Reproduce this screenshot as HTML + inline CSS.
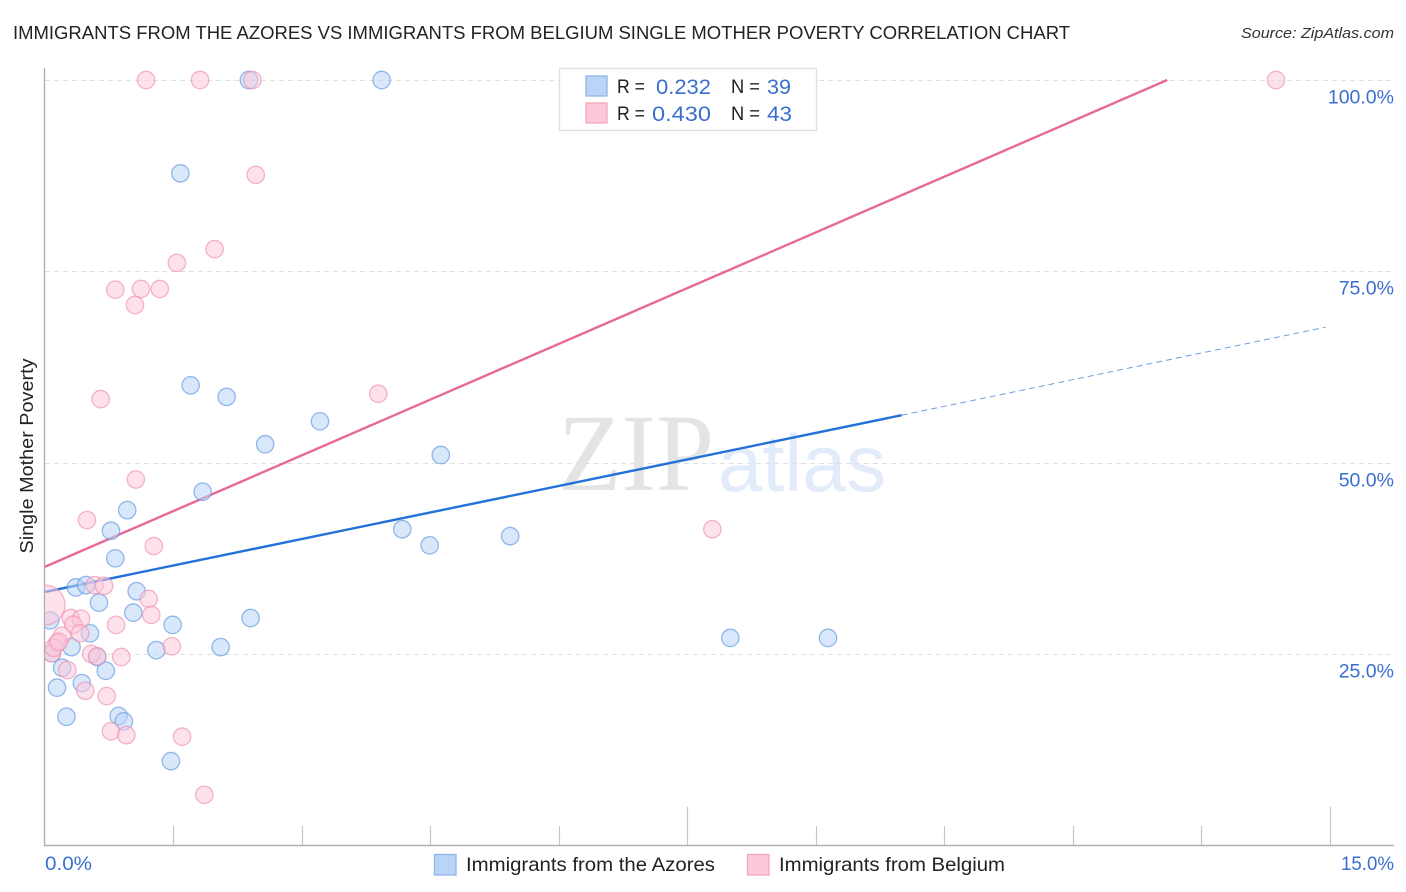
<!DOCTYPE html>
<html lang="en">
<head>
<meta charset="utf-8">
<title>Immigrants from the Azores vs Immigrants from Belgium Single Mother Poverty Correlation Chart</title>
<style>
html,body{margin:0;padding:0;background:#fff;}
body{width:1406px;height:892px;overflow:hidden;font-family:"Liberation Sans",sans-serif;}
svg{display:block;}
text{font-family:"Liberation Sans",sans-serif;}
</style>
</head>
<body>
<svg id="chart" xmlns="http://www.w3.org/2000/svg" width="1406" height="892" viewBox="0 0 1406 892">
  <defs>
    <clipPath id="plot-clip"><rect x="45" y="60" width="1349" height="785"/></clipPath>
  </defs>
  <text x="558" y="490" font-size="110" style="font-family:'Liberation Serif',serif" fill="#e4e4e4" textLength="156" lengthAdjust="spacingAndGlyphs">ZIP</text>
  <text x="718" y="491" font-size="81" style="font-family:'Liberation Sans',sans-serif" fill="#e2ebf9" textLength="168" lengthAdjust="spacingAndGlyphs">atlas</text>
  <g id="grid"></g>
  <g id="axes"></g>
  <g id="lines"></g>
  <g id="points" clip-path="url(#plot-clip)"></g>
  <g id="ylabels"></g>

  <text x="13" y="39" font-size="18.5" fill="#222" textLength="1057" lengthAdjust="spacingAndGlyphs">IMMIGRANTS FROM THE AZORES VS IMMIGRANTS FROM BELGIUM SINGLE MOTHER POVERTY CORRELATION CHART</text>
  <text x="1394" y="38" font-size="15" font-style="italic" fill="#333" text-anchor="end" textLength="153" lengthAdjust="spacingAndGlyphs">Source: ZipAtlas.com</text>
  <text transform="translate(33,456) rotate(-90)" font-size="18" fill="#222" text-anchor="middle" textLength="195" lengthAdjust="spacingAndGlyphs">Single Mother Poverty</text>

  <g>
    <rect x="559.5" y="68.5" width="257" height="62" fill="#fff" stroke="#dedede" stroke-width="1.3"/>
    <rect x="586" y="76" width="21" height="20" fill="#b9d4f7" stroke="#8fb6ea" stroke-width="1.3"/>
    <rect x="586" y="103" width="21" height="20" fill="#fcc8da" stroke="#f2a6c0" stroke-width="1.3"/>
    <text x="617" y="93" font-size="19.5" fill="#222" textLength="28" lengthAdjust="spacingAndGlyphs">R =</text>
    <text x="656" y="94" font-size="21" fill="#3a6fcf" textLength="55" lengthAdjust="spacingAndGlyphs">0.232</text>
    <text x="731" y="93" font-size="19.5" fill="#222" textLength="29" lengthAdjust="spacingAndGlyphs">N =</text>
    <text x="767" y="94" font-size="21" fill="#3a6fcf" textLength="24" lengthAdjust="spacingAndGlyphs">39</text>
    <text x="617" y="120" font-size="19.5" fill="#222" textLength="28" lengthAdjust="spacingAndGlyphs">R =</text>
    <text x="652" y="121" font-size="21" fill="#3a6fcf" textLength="59" lengthAdjust="spacingAndGlyphs">0.430</text>
    <text x="731" y="120" font-size="19.5" fill="#222" textLength="29" lengthAdjust="spacingAndGlyphs">N =</text>
    <text x="767" y="121" font-size="21" fill="#3a6fcf" textLength="25" lengthAdjust="spacingAndGlyphs">43</text>
  </g>

  <text id="x-min" x="45" y="870" font-size="19" fill="#3a6fcf" textLength="47" lengthAdjust="spacingAndGlyphs"></text>
  <text id="x-max" x="1394" y="870" font-size="19" fill="#3a6fcf" text-anchor="end" textLength="53" lengthAdjust="spacingAndGlyphs"></text>

  <g>
    <g>
      <rect x="434.5" y="854.5" width="21.5" height="20.5" fill="#b9d4f7" stroke="#8fb6ea" stroke-width="1.3"/>
      <text x="466" y="871" font-size="19.5" fill="#222" textLength="249" lengthAdjust="spacingAndGlyphs">Immigrants from the Azores</text>
    </g>
    <g>
      <rect x="747.5" y="854.5" width="21.5" height="20.5" fill="#fcc8da" stroke="#f2a6c0" stroke-width="1.3"/>
      <text x="779" y="871" font-size="19.5" fill="#222" textLength="226" lengthAdjust="spacingAndGlyphs">Immigrants from Belgium</text>
    </g>
  </g>
</svg>
<script>
// ---- chart data (percent values) ----
const xTickValues = [1.5, 3, 4.5, 6, 7.5, 9, 10.5, 12, 13.5, 15];
const xMajorTicks = [7.5, 15];
const xEndLabels = ["0.0%", "15.0%"];
const yTickValues = [25, 50, 75, 100];
const yTickLabels = ["25.0%", "50.0%", "75.0%", "100.0%"];

const azoresX = [2.38,3.93,1.58,1.70,2.12,3.21,2.57,4.62,1.84,0.96,0.77,4.17,4.49,5.43,0.82,0.36,0.48,1.07,0.63,1.03,2.40,0.06,1.49,0.525,8.00,9.14,2.05,1.30,0.31,0.08,0.61,0.71,0.20,0.43,0.14,0.25,0.86,0.92,1.47];
const azoresY = [100,100,87.8,60.1,58.6,55.4,52.4,51.0,46.2,43.8,41.1,41.3,39.2,40.4,37.5,33.7,34.0,33.2,31.7,30.4,29.7,29.4,28.8,27.7,27.1,27.1,25.9,25.5,25.9,25.1,24.6,22.8,23.2,21.2,20.6,16.8,16.9,16.2,11.0];

const belgiumX = [1.18,1.81,2.42,14.37,2.46,1.98,1.54,0.82,1.12,1.34,1.05,3.89,0.65,1.06,0.49,7.79,1.27,0.58,0.69,1.21,1.24,0.00,0.30,0.42,0.33,0.83,0.41,0.20,1.48,0.14,0.08,0.10,0.54,0.61,0.89,0.26,0.47,0.72,0.77,0.95,1.60,1.86,0.16];
const belgiumY = [100,100,100,100,87.6,77.9,76.1,72.6,72.7,72.7,70.6,59.0,58.3,47.8,42.5,41.3,39.1,34.0,33.9,32.2,30.1,31.4,29.7,29.6,28.8,28.8,27.7,27.4,26.0,26.4,25.1,25.8,25.0,24.7,24.6,22.9,20.2,19.5,14.9,14.4,14.2,6.6,26.6];
const belgiumSize = [1,1,1,1,1,1,1,1,1,1,1,1,1,1,1,1,1,1,1,1,1,2.3,1,1,1,1,1,1,1,1,1,1,1,1,1,1,1,1,1,1,1,1,1];

const azoresTrendX = [0, 10.0];
const azoresTrendY = [33.1, 56.2];
const azoresForecastX = [10.0, 14.95];
const azoresForecastY = [56.2, 67.7];
const belgiumTrendX = [0, 13.1];
const belgiumTrendY = [36.4, 100];

// ---- axis functions ----
function xScale(v) { return 45 + v * (1330 - 45) / 15; }
function yScale(v) { return 845.3 - v * (845.3 - 80) / 100; }

const SVGNS = "http://www.w3.org/2000/svg";
function make(tag, attrs, parent) {
  const el = document.createElementNS(SVGNS, tag);
  for (const k in attrs) el.setAttribute(k, attrs[k]);
  parent.appendChild(el);
  return el;
}

const gridG = document.getElementById("grid");
const axesG = document.getElementById("axes");
const linesG = document.getElementById("lines");
const pointsG = document.getElementById("points");
const yLabelsG = document.getElementById("ylabels");

yTickValues.forEach(function (v, i) {
  const y = Math.round(yScale(v)) + 0.5;
  const g = make("line", {x1: 45, x2: 1394, y1: y, y2: y, stroke: "#e0e0e0", "stroke-width": 1, "stroke-dasharray": "5 4"}, gridG);
  
  
  const t = make("text", {x: 1394, y: y + 23, "font-size": 19.5, fill: "#3a6fcf", "text-anchor": "end"}, yLabelsG);
  
  
  t.textContent = yTickLabels[i];
});

const yAxis = make("line", {x1: 44.5, x2: 44.5, y1: 68, y2: 846, stroke: "#b0b0b0", "stroke-width": 1.4}, axesG);


const xAxis = make("line", {x1: 44, x2: 1394, y1: 845.5, y2: 845.5, stroke: "#b0b0b0", "stroke-width": 1.4}, axesG);


xTickValues.forEach(function (v) {
  const x = Math.floor(xScale(v)) + 0.5;
  const top = xMajorTicks.indexOf(v) >= 0 ? 807 : 826;
  const tk = make("line", {x1: x, x2: x, y1: top, y2: 845, stroke: "#c4c4c4", "stroke-width": 1.2}, axesG);
  
  
});
document.getElementById("x-min").textContent = xEndLabels[0];
document.getElementById("x-max").textContent = xEndLabels[1];

function drawSeries(xs, ys, sizes, fill, stroke, name) {
  xs.forEach(function (v, i) {
    const r = 8.7 * (sizes ? sizes[i] : 1);
    const c = make("circle", {cx: xScale(v), cy: yScale(ys[i]), r: r, fill: fill, "fill-opacity": 0.55, stroke: stroke, "stroke-opacity": 0.65, "stroke-width": 1.3}, pointsG);
    
    
  });
}
drawSeries(azoresX, azoresY, null, "#b9d4f7", "#5f97e0", "point-azores");
drawSeries(belgiumX, belgiumY, belgiumSize, "#fcc8da", "#ee8fb0", "point-belgium");

function drawTrend(xs, ys, color, width, dash, name) {
  const l = make("line", {x1: xScale(xs[0]), y1: yScale(ys[0]), x2: xScale(xs[1]), y2: yScale(ys[1]), stroke: color, "stroke-width": width}, linesG);
  if (dash) l.setAttribute("stroke-dasharray", dash);
  
  
}
drawTrend(azoresTrendX, azoresTrendY, "#2272d8", 2.4, null, "trend-line-azores");
drawTrend(azoresForecastX, azoresForecastY, "#6d9fe0", 1, "6 4", "trend-forecast-azores");
drawTrend(belgiumTrendX, belgiumTrendY, "#e9689a", 2.4, null, "trend-line-belgium");
</script>
</body>
</html>
